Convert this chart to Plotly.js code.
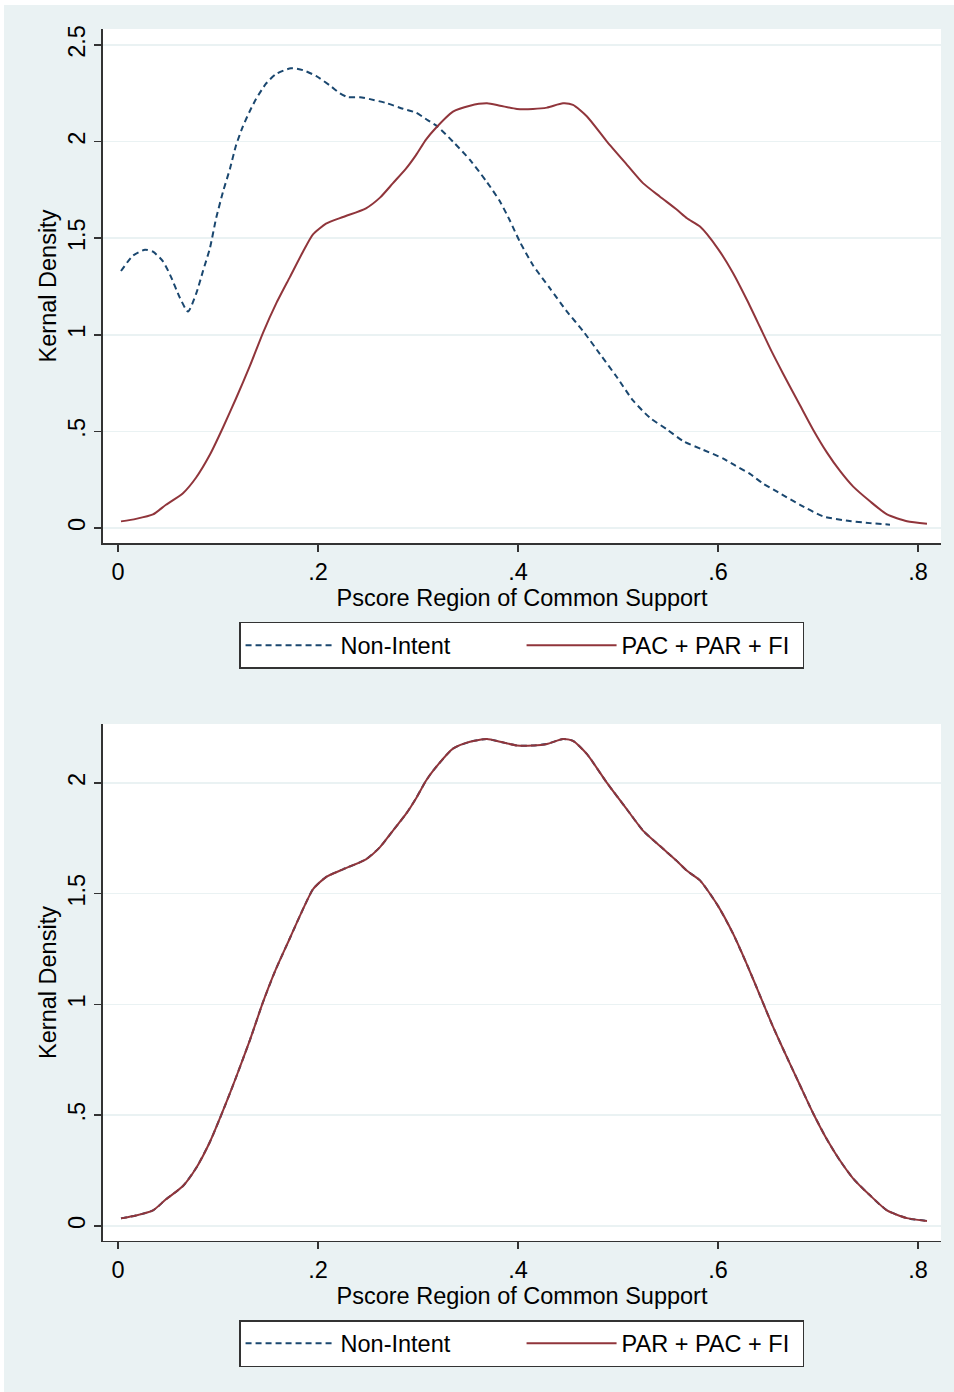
<!DOCTYPE html>
<html>
<head>
<meta charset="utf-8">
<script src="https://cdn.plot.ly/plotly-3.0.1.min.js"></script>
<style>
  html, body { margin: 0; padding: 0; background: #ffffff; width: 954px; height: 1392px; overflow: hidden; }
  #chart { position: absolute; left: 4px; top: 5px; width: 950px; height: 1387px; }
</style>
</head>
<body>
<div id="chart"></div>
<script>
// ---- Data ----
const nonIntentX = [0.003, 0.015, 0.027, 0.035, 0.045, 0.053, 0.062, 0.070, 0.078, 0.085, 0.092, 0.098, 0.105, 0.112, 0.118, 0.125, 0.132, 0.138, 0.148, 0.158, 0.173, 0.185, 0.198, 0.212, 0.222, 0.230, 0.242, 0.252, 0.268, 0.285, 0.298, 0.310, 0.319, 0.335, 0.352, 0.369, 0.382, 0.392, 0.402, 0.415, 0.432, 0.449, 0.465, 0.482, 0.499, 0.515, 0.532, 0.549, 0.565, 0.585, 0.605, 0.615, 0.632, 0.645, 0.660, 0.682, 0.705, 0.730, 0.752, 0.772];
const nonIntentY = [1.33, 1.41, 1.44, 1.43, 1.38, 1.30, 1.19, 1.12, 1.21, 1.33, 1.45, 1.60, 1.74, 1.86, 1.98, 2.08, 2.16, 2.22, 2.30, 2.35, 2.38, 2.37, 2.34, 2.29, 2.25, 2.23, 2.23, 2.22, 2.20, 2.17, 2.15, 2.11, 2.08, 2.00, 1.905, 1.79, 1.69, 1.59, 1.48, 1.36, 1.24, 1.12, 1.02, 0.90, 0.78, 0.66, 0.57, 0.51, 0.45, 0.405, 0.36, 0.33, 0.28, 0.23, 0.185, 0.12, 0.06, 0.037, 0.025, 0.017];

const pacX = [0.003, 0.018, 0.035, 0.048, 0.065, 0.078, 0.092, 0.105, 0.118, 0.132, 0.145, 0.158, 0.172, 0.185, 0.195, 0.208, 0.225, 0.248, 0.262, 0.275, 0.288, 0.298, 0.308, 0.316, 0.335, 0.352, 0.369, 0.382, 0.399, 0.415, 0.429, 0.445, 0.455, 0.469, 0.489, 0.509, 0.525, 0.542, 0.559, 0.569, 0.582, 0.600, 0.615, 0.629, 0.642, 0.654, 0.665, 0.682, 0.695, 0.709, 0.722, 0.735, 0.752, 0.769, 0.789, 0.809];
const pacY = [0.034, 0.047, 0.07, 0.12, 0.18, 0.26, 0.38, 0.52, 0.67, 0.84, 1.01, 1.16, 1.30, 1.43, 1.52, 1.575, 1.61, 1.655, 1.71, 1.785, 1.86, 1.93, 2.01, 2.06, 2.155, 2.186, 2.198, 2.186, 2.169, 2.169, 2.176, 2.198, 2.19, 2.13, 2.0, 1.88, 1.785, 1.715, 1.647, 1.603, 1.56, 1.445, 1.32, 1.18, 1.04, 0.91, 0.80, 0.635, 0.51, 0.39, 0.295, 0.215, 0.138, 0.07, 0.035, 0.022];

// In the lower panel the matched Non-Intent curve lies on top of the treated curve
const matchedX = pacX;
const matchedY = pacY;

const xTickVals = [0, 0.2, 0.4, 0.6, 0.8];
const xTickText = ['0', '.2', '.4', '.6', '.8'];
const yTickVals1 = [0, 0.5, 1, 1.5, 2, 2.5];
const yTickText1 = ['0', '.5', '1', '1.5', '2', '2.5'];
const yTickVals2 = [0, 0.5, 1, 1.5, 2];
const yTickText2 = ['0', '.5', '1', '1.5', '2'];

const legendTop = ['Non-Intent', 'PAC + PAR + FI'];
const legendBottom = ['Non-Intent', 'PAR + PAC + FI'];
const xTitle = 'Pscore Region of Common Support';
const yTitle = 'Kernal Density';

// ---- Styling ----
const NAVY = '#1a476f';
const MAROON = '#90353b';
const BG = '#eaf2f3';
const FONT = 'Liberation Sans, Arial, Helvetica, sans-serif';
const FS = 23.5;

const traces = [
  { x: nonIntentX, y: nonIntentY, name: legendTop[0], type: 'scatter', mode: 'lines',
    line: { color: NAVY, width: 2, dash: '6px,4px', shape: 'spline', smoothing: 0.6 },
    xaxis: 'x', yaxis: 'y', legend: 'legend' },
  { x: pacX, y: pacY, name: legendTop[1], type: 'scatter', mode: 'lines',
    line: { color: MAROON, width: 2, shape: 'spline', smoothing: 0.6 },
    xaxis: 'x', yaxis: 'y', legend: 'legend' },
  { x: matchedX, y: matchedY, name: legendBottom[0], type: 'scatter', mode: 'lines',
    line: { color: NAVY, width: 2, dash: '6px,4px', shape: 'spline', smoothing: 0.6 },
    xaxis: 'x2', yaxis: 'y2', legend: 'legend2' },
  { x: pacX, y: pacY, name: legendBottom[1], type: 'scatter', mode: 'lines',
    line: { color: MAROON, width: 2, shape: 'spline', smoothing: 0.6 },
    xaxis: 'x2', yaxis: 'y2', legend: 'legend2' }
];

function xAxis(anchor) {
  return {
    domain: [0.1042, 0.9863], anchor: anchor, range: [-0.015, 0.823],
    tickvals: xTickVals, ticktext: xTickText, ticks: 'outside', ticklen: 7, tickwidth: 1.5,
    tickcolor: '#333333', showline: true, linecolor: '#333333', linewidth: 1.5,
    showgrid: false, zeroline: false, tickfont: { family: FONT, size: FS, color: '#000' },
    title: { text: xTitle, font: { family: FONT, size: FS, color: '#000' }, standoff: 3 },
    automargin: false, fixedrange: true
  };
}
function yAxis(anchor, domain, range, tv, tt) {
  return {
    domain: domain, anchor: anchor, range: range,
    tickvals: tv, ticktext: tt, tickangle: -90, ticks: 'outside', ticklen: 7, tickwidth: 1.5,
    tickcolor: '#333333', showline: true, linecolor: '#333333', linewidth: 1.5,
    showgrid: true, gridcolor: BG, gridwidth: 1.5, zeroline: false,
    tickfont: { family: FONT, size: FS, color: '#000' },
    title: { text: yTitle, font: { family: FONT, size: FS, color: '#000' }, standoff: 1 },
    automargin: false, fixedrange: true
  };
}

const legendStyle = (yPos) => ({
  x: 0.5448, xanchor: 'center', y: yPos, yanchor: 'top', orientation: 'h',
  bgcolor: '#ffffff', bordercolor: '#333333', borderwidth: 1.5,
  font: { family: FONT, size: FS, color: '#000' }, itemwidth: 90,
  entrywidth: 176, entrywidthmode: 'pixels',
  traceorder: 'normal', itemclick: false, itemdoubleclick: false
});

const layout = {
  width: 950, height: 1387,
  paper_bgcolor: BG, plot_bgcolor: '#ffffff',
  margin: { l: 0, r: 0, t: 0, b: 0 },
  showlegend: true,
  xaxis: xAxis('y'),
  yaxis: yAxis('x', [0.6121, 0.9827], [-0.078, 2.583], yTickVals1, yTickText1),
  xaxis2: xAxis('y2'),
  yaxis2: yAxis('x2', [0.1089, 0.4816], [-0.068, 2.266], yTickVals2, yTickText2),
  legend: legendStyle(0.5552),
  legend2: legendStyle(0.0519)
};

Plotly.newPlot('chart', traces, layout, { staticPlot: true, displayModeBar: false });
</script>
</body>
</html>
